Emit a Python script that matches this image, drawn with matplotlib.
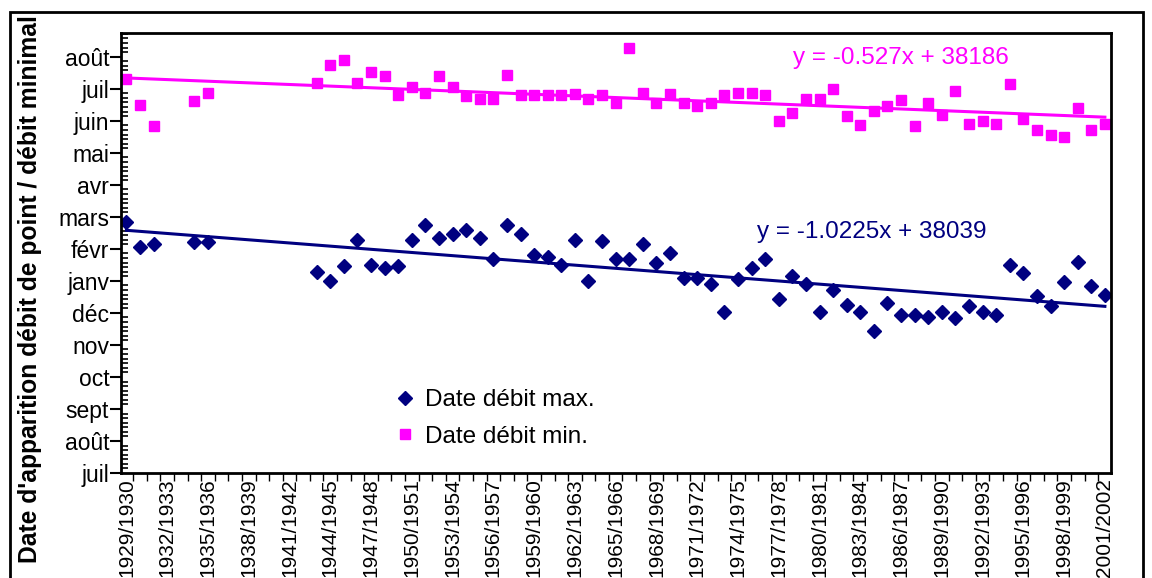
import numpy as np
import matplotlib
matplotlib.use("Agg")
import matplotlib.pyplot as plt
import matplotlib.ticker as ticker
from matplotlib.patches import Rectangle

plt.rcParams['font.family'] = ['Liberation Sans', 'DejaVu Sans']

# hydrological years 1929/1930 .. 2001/2002
start_years = list(range(1929, 2002))
categories = ["%d/%d" % (y, y + 1) for y in start_years]

nan = np.nan
# dates in days counted from 1 July (start of the hydrological year)
date_max = [243, 219, 222, nan, nan, 224, 224, nan, nan, nan, nan, nan, nan, nan,
            195, 186, 200, 226, 201, 198, 200, 226, 240, 228, 231, 235, 228, 207,
            240, 231, 211, 209, 201, 226, 186, 225, 207, 207, 222, 203, 213, 189,
            189, 183, 156, 188, 198, 207, 168, 191, 183, 156, 177, 163, 156, 137,
            165, 153, 153, 151, 156, 150, 162, 156, 153, 201, 194, 171, 162, 185,
            204, 181, 172]
date_min = [381, 356, 336, nan, nan, 360, 368, nan, nan, nan, nan, nan, nan, nan,
            378, 395, 400, 378, 388, 384, 366, 374, 368, 384, 374, 365, 362, 362,
            385, 366, 366, 366, 366, 367, 362, 366, 358, 411, 368, 358, 367, 358,
            355, 358, 366, 368, 368, 366, 341, 349, 362, 362, 372, 346, 337, 350,
            355, 361, 336, 358, 347, 370, 338, 341, 338, 377, 343, 332, 327, 325,
            353, 332, 338]

# linear trends (x = year rank, y = spreadsheet date serial)
trend_max = (-1.0225, 38039)
trend_min = (-0.527, 38186)
DATE_ORIGIN = 37803  # serial of 1 July

month_labels = ["juil", "août", "sept", "oct", "nov", "déc", "janv", "févr",
                "mars", "avr", "mai", "juin", "juil", "août"]

NAVY = "#000080"
PINK = "#FF00FF"
W, H = 1152, 578

x = np.arange(1, len(categories) + 1)

fig = plt.figure(figsize=(W / 100, H / 100), dpi=100)
ax = fig.add_axes([121 / W, 1 - 473 / H, (1111 - 121) / W, (473 - 33) / H])

ax.plot(x, date_max, linestyle="none", marker="D", markersize=7.5,
        color=NAVY, label="Date débit max.")
ax.plot(x, date_min, linestyle="none", marker="s", markersize=7.5,
        color=PINK, label="Date débit min.")

for (a, b), col in ((trend_max, NAVY), (trend_min, PINK)):
    xs = np.array([x[0], x[-1]])
    ax.plot(xs, a * xs + b - DATE_ORIGIN, color=col, linewidth=2.2)

fig.text(757 / W, 1 - 232 / H, "y = -1.0225x + 38039", color=NAVY,
         fontsize=17.5, va="center", ha="left")
fig.text(793 / W, 1 - 58 / H, "y = -0.527x + 38186", color=PINK,
         fontsize=17.5, va="center", ha="left")

# y axis: months, one major step = 31 days
ax.set_ylim(0, 426)
ax.yaxis.set_major_locator(ticker.FixedLocator(np.arange(len(month_labels)) * 31))
ax.yaxis.set_major_formatter(ticker.FixedFormatter(month_labels))
ax.yaxis.set_minor_locator(ticker.MultipleLocator(31 / 7))
ax.tick_params(axis="y", which="major", direction="out", length=8, width=1.5,
               labelsize=16.5, pad=0.5)
ax.tick_params(axis="y", which="minor", direction="in", length=5, width=1.2)

# x axis: label every third year
ax.set_xlim(0.6, 73.45)
ax.set_xticks(x[::3])
ax.set_xticklabels(categories[::3], rotation=90)
ax.xaxis.set_minor_locator(ticker.FixedLocator(np.arange(0.5, 74, 1)))
ax.tick_params(axis="x", which="major", length=0, labelsize=15, pad=4)
ax.tick_params(axis="x", which="minor", direction="out", length=6, width=1)

for side in ("left", "bottom", "top", "right"):
    ax.spines[side].set_linewidth(2)
    ax.spines[side].set_color("black")

fig.text(30 / W, 1 - 289 / H, "Date d'apparition débit de point / débit minimal",
         fontsize=17.7, fontweight="bold", rotation=90, va="center", ha="center")

ax.legend(loc="upper left", bbox_to_anchor=(396 / W, 1 - 389 / H),
          bbox_transform=fig.transFigure, frameon=False, fontsize=17.5,
          handlelength=0.7, handletextpad=0.5, borderpad=0, labelspacing=0.6,
          borderaxespad=0)

fig.patches.append(Rectangle((10 / W, -0.1), 1133 / W, 1.1 - 12 / H,
                             transform=fig.transFigure, fill=False,
                             edgecolor="black", linewidth=2))

fig.savefig("out.png", dpi=100)
